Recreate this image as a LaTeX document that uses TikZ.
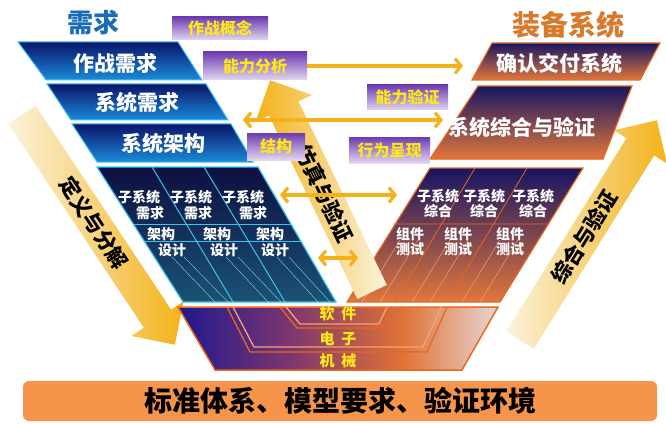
\documentclass[tikz,border=0pt]{standalone}
\usepackage{fontspec}
\setmainfont{Noto Sans CJK SC}
\usetikzlibrary{shapes.arrows,arrows.meta}
\definecolor{navy}{HTML}{0A1468}
\definecolor{skyb}{HTML}{1C8ADA}
\definecolor{cyanb}{HTML}{3CC4F0}
\definecolor{deep}{HTML}{0D0F40}
\definecolor{tealb}{HTML}{1B5274}
\definecolor{rnavy}{HTML}{161562}
\definecolor{rorange}{HTML}{E2773C}
\definecolor{redge}{HTML}{E8681E}
\definecolor{lpurple}{HTML}{6C3CB0}
\definecolor{lpale}{HTML}{E2D6F2}
\definecolor{lyellow}{HTML}{FFE818}
\definecolor{gold}{HTML}{F3B21A}
\definecolor{cream}{HTML}{FBF3DC}
\definecolor{barorange}{HTML}{F5944A}
\definecolor{titleblue}{HTML}{1B6CB8}
\definecolor{titleorange}{HTML}{D87A2C}
\definecolor{bnavy}{HTML}{1E1890}
\definecolor{bmid}{HTML}{7A3470}
\definecolor{bor}{HTML}{E07236}
\definecolor{blight}{HTML}{E6D6D2}
\pgfdeclarehorizontalshading{vbase}{100bp}{color(0bp)=(bnavy); color(25bp)=(bnavy); color(42bp)=(bmid); color(60bp)=(bor); color(75bp)=(blight); color(100bp)=(blight)}
\begin{document}
\begin{tikzpicture}[x=1pt,y=-1pt,
  row/.style={text=white,font=\bfseries\fontsize{21}{21}\selectfont},
  lab/.style={top color=lpurple,bottom color=lpale,text=lyellow,inner sep=0pt,font=\bfseries\fontsize{16}{16}\selectfont},
  cell/.style={text=white,inner sep=0pt,align=center,font=\bfseries\fontsize{14}{15}\selectfont},
  lay/.style={text=lyellow,font=\bfseries\fontsize{15}{15}\selectfont},
  bigarrow/.style={single arrow,single arrow head extend=15pt,inner xsep=2pt,inner ysep=6pt,text=black,font=\bfseries\fontsize{21}{21}\selectfont},
  link/.style={draw=gold,line width=3.2pt,>={Straight Barb[length=6pt,width=15pt]}},
  uline/.style={draw=redge,line width=1.3pt,line join=round}]
\useasboundingbox (0,0) rectangle (666,425);

% base bar
\node[fill=barorange, rounded corners=6pt, minimum width=634pt, minimum height=40pt, font=\bfseries\fontsize{28}{28}\selectfont] (base) at (340,401) {标准体系、模型要求、验证环境};

% side arrows
\node[bigarrow, left color=cream, right color=gold, rotate=-56.4, minimum height=276pt, anchor=tip] (dec) at (175,345) {定义与分解};
\node[bigarrow, left color=cream, right color=gold, rotate=58.1, minimum height=259pt, anchor=tip] (int) at (657,120) {综合与验证};

% titles
\node[text=titleblue, font=\bfseries\fontsize{26}{26}\selectfont] (xq) at (93,23) {需求};
\node[text=titleorange, font=\bfseries\fontsize{28}{28}\selectfont] (zb) at (568,25) {装备系统};

% left side
\draw[top color=navy, bottom color=skyb, draw=cyanb, line width=1pt] (18,42) -- (178,42) -- (202,80) -- (46,80) -- cycle;
\draw[top color=navy, bottom color=skyb, draw=cyanb, line width=1pt] (47,84) -- (206,84) -- (228,120) -- (71,120) -- cycle;
\draw[top color=navy, bottom color=skyb, draw=cyanb, line width=1pt] (72,124) -- (231,124) -- (253,162) -- (97,162) -- cycle;
\node[row] (a1) at (115,63) {作战需求};
\node[row] (a2) at (137,102) {系统需求};
\node[row] (a3) at (163,143) {系统架构};

\draw[top color=deep, bottom color=tealb, draw=cyanb, line width=1.2pt] (97,167) -- (258,167) -- (336,302) -- (183,302) -- cycle;
\draw[cyanb, line width=1pt] (152,167) -- (233,302) (204,167) -- (285,302);
\draw[cyanb, line width=0.8pt] (134,224) -- (291,224) (145,241) -- (301,241);
\draw[cyanb!70, line width=0.4pt] (172,257) -- (215,302) (184,257) -- (228,302)
  (226,257) -- (268,302) (238,257) -- (281,302) (277,257) -- (318,302) (289,257) -- (330,302);
\node[cell] (s1) at (139,197) {子系统};
\node[cell] (s2) at (191,197) {子系统};
\node[cell] (s3) at (243,197) {子系统};
\node[cell] (q1) at (150,213) {需求};
\node[cell] (q2) at (198,213) {需求};
\node[cell] (q3) at (253,213) {需求};
\node[cell] (g1) at (161,234) {架构};
\node[cell] (g2) at (217,234) {架构};
\node[cell] (g3) at (270,234) {架构};
\node[cell] (d1) at (172,250) {设计};
\node[cell] (d2) at (224,250) {设计};
\node[cell] (d3) at (275,250) {设计};

% right side
\draw[top color=rnavy, bottom color=rorange, draw=redge, line width=1.2pt] (492,43) -- (660,43) -- (640,80) -- (472,80) -- cycle;
\draw[top color=rnavy, bottom color=rorange, draw=redge, line width=1.2pt] (478,86) -- (632,86) -- (603,159) -- (430,159) -- cycle;
\node[row] (b1) at (559,63) {确认交付系统};
\node[row] (b2) at (522,127) {系统综合与验证};

\draw[top color=rnavy, bottom color=rorange, draw=redge, line width=1.2pt] (430,168) -- (583,168) -- (500,302) -- (347,302) -- cycle;
\draw[redge, line width=0.8pt] (475,168) -- (395,302) (527,168) -- (447,302) (393,224) -- (549,224);
\draw[rorange!60!white, line width=0.4pt] (362,302) -- (400,240) (380,302) -- (418,240)
  (412,302) -- (450,240) (430,302) -- (468,240) (462,302) -- (500,240) (480,302) -- (518,240);
\node[cell] (h1) at (438,204) {子系统\\综合};
\node[cell] (h2) at (484,204) {子系统\\综合};
\node[cell] (h3) at (533,204) {子系统\\综合};
\node[cell] (t1) at (410,242) {组件\\测试};
\node[cell] (t2) at (458,242) {组件\\测试};
\node[cell] (t3) at (510,242) {组件\\测试};

% bottom layers
\draw[shading=vbase, draw=redge, line width=1.5pt] (178,307) -- (498,307) -- (462,370) -- (215,370) -- cycle;
\draw[uline] (227,307) -- (250,352) -- (427,352) -- (447,307);
\draw[uline, draw=redge!60!white] (233,307) -- (254,347) -- (423,347) -- (441,307);
\draw[uline] (280,307) -- (297,328) -- (382,328) -- (392,307);
\draw[uline, draw=redge!60!white] (286,307) -- (300,324) -- (379,324) -- (387,307);
\node[lay] (sw) at (338,314) {软\hspace{7pt}件};
\node[lay] (el) at (338,339) {电\hspace{7pt}子};
\node[lay] (me) at (338,361) {机\hspace{7pt}械};

% middle arrow
\node[bigarrow, shape border rotate=180, left color=gold, right color=cream, rotate=-64.3, minimum height=235pt, anchor=tip] (fz) at (270,80) {仿真与验证};

% labels
\node[lab, minimum width=96pt, minimum height=23pt] (gn) at (220,28.5) {作战概念};
\node[lab, minimum width=104pt, minimum height=28pt] (nl) at (255,66) {能力分析};
\node[lab, minimum width=58pt, minimum height=27pt] (jg) at (276,146.5) {结构};
\node[lab, minimum width=81pt, minimum height=25pt] (ny) at (407.5,97.5) {能力验证};
\node[lab, minimum width=81pt, minimum height=26pt] (xw) at (389.5,150) {行为呈现};

% links
\coordinate (k1) at (463,66);
\coordinate (k2) at (243,120);
\coordinate (k3) at (443,120);
\coordinate (k4) at (280,195);
\coordinate (k5) at (397,195);
\coordinate (k6) at (318,258);
\coordinate (k7) at (358,258);
\draw[link, ->] (nl.east) -- (k1);
\draw[link, <->] (k2) -- (k3);
\draw[link, <->] (k4) -- (k5);
\draw[link, <->] (k6) -- (k7);
\end{tikzpicture}
\end{document}
